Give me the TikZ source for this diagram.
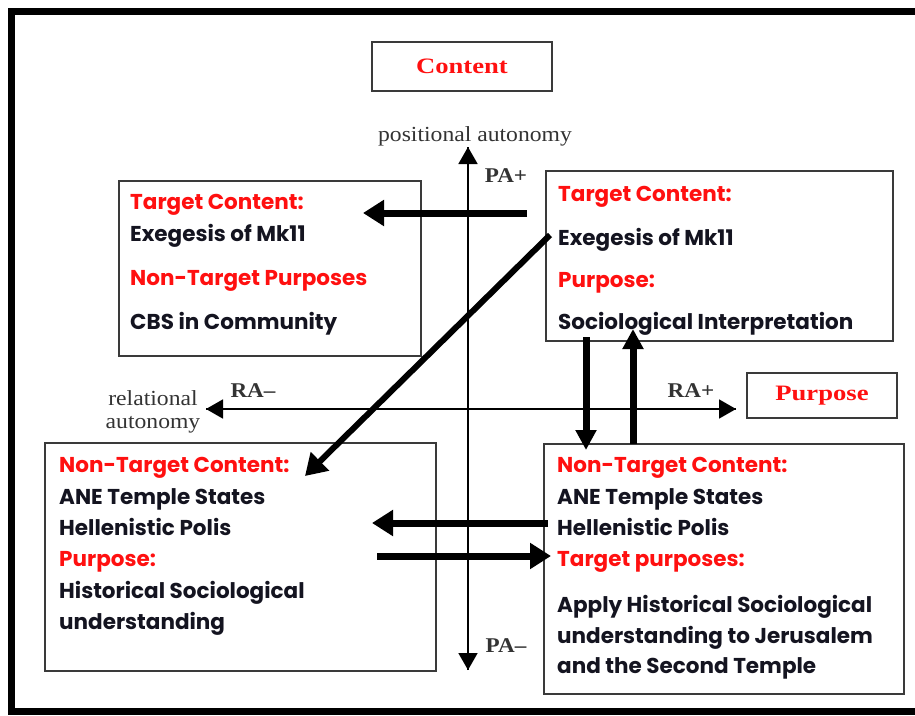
\documentclass[tikz,border=0pt]{standalone}
\usepackage{fontspec}
\usetikzlibrary{arrows.meta}
\setmainfont{Liberation Serif}
\newfontfamily\gothic{Poppins}
\newfontfamily\titleserif{Liberation Serif}[FakeStretch=1.21]
\newfontfamily\labelserif{Liberation Serif}[FakeStretch=1.1]
\definecolor{hdred}{HTML}{FF1010}
\definecolor{bodyink}{HTML}{141420}
\definecolor{framegray}{HTML}{3A3A3A}
\definecolor{axisgray}{HTML}{333333}
\tikzset{
  box/.style={draw=framegray, line width=1.5pt, rectangle, inner sep=0pt, anchor=north west},
  titlebox/.style={draw=framegray, line width=1.5pt, rectangle, inner sep=0pt,
                   font=\titleserif\fontsize{22}{24}\selectfont\bfseries, text=hdred},
  head/.style={anchor=base west, inner sep=0pt, text=hdred, font=\gothic\fontsize{21.5}{24}\selectfont\bfseries},
  body/.style={anchor=base west, inner sep=0pt, text=bodyink, font=\gothic\fontsize{21.5}{24}\selectfont\bfseries},
  axis/.style={draw=black, line width=1.8pt, -{Triangle[length=17pt,width=19pt]}},
  axislabel/.style={anchor=base, inner sep=0pt, text=axisgray, font=\labelserif\fontsize{21.5}{23}\selectfont},
  pole/.style={anchor=base, inner sep=0pt, text=axisgray, font=\labelserif\fontsize{21}{23}\selectfont\bfseries},
  bigarrow/.style={draw=black, line width=7pt, -{Triangle[length=21pt,width=25pt]}},
}
\begin{document}
\begin{tikzpicture}[x=1pt,y=-1pt]
\useasboundingbox (0,0) rectangle (915,715);
% outer frame (its right edge lies past the page)
\draw[line width=7pt] (950,11.5) -- (11.5,11.5) -- (11.5,711) -- (950,711);

% axis titles
\node[titlebox, minimum width=180pt, minimum height=49pt] (content) at (462,66.5) {Content};
\node[titlebox, minimum width=150pt, minimum height=45pt] (purpose) at (822,395.5) {Purpose};

% axes
\coordinate (paTop) at (468,147);
\coordinate (paBot) at (468,670);
\coordinate (raLeft) at (206,409);
\coordinate (raRight) at (736,409);
\draw[axis] (paBot) -- (paTop);
\draw[axis] (paTop) -- (paBot);
\draw[axis] (raRight) -- (raLeft);
\draw[axis] (raLeft) -- (raRight);
\node[axislabel] (posaut) at (475,141) {positional autonomy};
\node[axislabel] (relaut1) at (153,405) {relational};
\node[axislabel] (relaut2) at (153,428) {autonomy};
\node[pole] (paplus) at (506,182) {PA+};
\node[pole] (paminus) at (506,652) {PA\textendash};
\node[pole] (raminus) at (253,397) {RA\textendash};
\node[pole] (raplus) at (691,397) {RA+};

% quadrant boxes
\node[box, minimum width=302pt, minimum height=175pt] (tl) at (118,180) {};
\node[box, minimum width=347pt, minimum height=170pt] (tr) at (545,170) {};
\node[box, minimum width=391pt, minimum height=228pt] (bl) at (44,442) {};
\node[box, minimum width=360pt, minimum height=250pt] (br) at (543,443) {};

% top-left texts
\node[head] (tl1) at (130,209) {Target Content:};
\node[body] (tl2) at (130,241) {Exegesis of Mk11};
\node[head] (tl3) at (130,285) {Non-Target Purposes};
\node[body] (tl4) at (130,329) {CBS in Community};

% top-right texts
\node[head] (tr1) at (558,201) {Target Content:};
\node[body] (tr2) at (558,245) {Exegesis of Mk11};
\node[head] (tr3) at (558,287) {Purpose:};
\node[body] (tr4) at (558,329) {Sociological Interpretation};

% bottom-left texts
\node[head] (bl1) at (59,472) {Non-Target Content:};
\node[body] (bl2) at (59,504) {ANE Temple States};
\node[body] (bl3) at (59,535) {Hellenistic Polis};
\node[head] (bl4) at (59,566) {Purpose:};
\node[body] (bl5) at (59,598) {Historical Sociological};
\node[body] (bl6) at (59,629) {understanding};

% bottom-right texts
\node[head] (br1) at (557,472) {Non-Target Content:};
\node[body] (br2) at (557,504) {ANE Temple States};
\node[body] (br3) at (557,535) {Hellenistic Polis};
\node[head] (br4) at (557,566) {Target purposes:};
\node[body] (br5) at (557,612) {Apply Historical Sociological};
\node[body] (br6) at (557,643) {understanding to Jerusalem};
\node[body] (br7) at (557,673) {and the Second Temple};

% transfer arrows
\coordinate (a1s) at (527,213);
\coordinate (a1e) at (363,213);
\draw[bigarrow] (a1s) -- (a1e);
\coordinate (a2s) at (550,235);
\coordinate (a2e) at (305,476);
\draw[bigarrow, line width=6pt] (a2s) -- (a2e);
\coordinate (a3s) at (586,337);
\coordinate (a3e) at (586,450);
\draw[bigarrow, -{Triangle[length=20pt,width=20pt]}] (a3s) -- (a3e);
\coordinate (a4s) at (633,444);
\coordinate (a4e) at (633,329);
\draw[bigarrow, -{Triangle[length=20pt,width=20pt]}] (a4s) -- (a4e);
\coordinate (a5s) at (548,523);
\coordinate (a5e) at (372,523);
\draw[bigarrow] (a5s) -- (a5e);
\coordinate (a6s) at (377,556);
\coordinate (a6e) at (551,556);
\draw[bigarrow] (a6s) -- (a6e);
\end{tikzpicture}
\end{document}
